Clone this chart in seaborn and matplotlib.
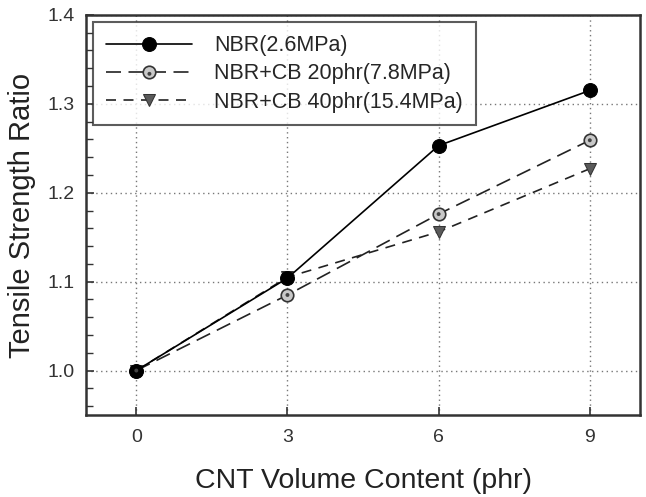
import matplotlib
matplotlib.use("Agg")
import matplotlib.pyplot as plt
import seaborn as sns
import pandas as pd
from matplotlib.ticker import MultipleLocator, FormatStrFormatter
from matplotlib.legend_handler import HandlerTuple

cnt = [0, 3, 6, 9]
nbr = [1.0, 1.104, 1.253, 1.315]
cb20 = [1.0, 1.085, 1.176, 1.259]
cb40 = [1.0, 1.105, 1.156, 1.227]
labels = ["NBR(2.6MPa)", "NBR+CB 20phr(7.8MPa)", "NBR+CB 40phr(15.4MPa)"]

sns.set_theme(style="white")
plt.rcParams['font.family'] = ['Liberation Sans', 'DejaVu Sans']

fig, ax = plt.subplots(figsize=(6.46, 4.97), dpi=100)
fig.subplots_adjust(left=0.133, right=0.991, top=0.970, bottom=0.165)

df = pd.DataFrame({"x": cnt, "nbr": nbr, "cb20": cb20, "cb40": cb40})

sns.lineplot(data=df, x="x", y="nbr", ax=ax, color="black", lw=1.2,
             errorbar=None, marker="o", markersize=10, markerfacecolor="black",
             markeredgecolor="black", zorder=5)
h1 = ax.lines[-1]
sns.lineplot(data=df, x="x", y="cb20", ax=ax, color="#222222", lw=1.2,
             errorbar=None, marker="o", markersize=9, markerfacecolor="#c8c8c8",
             markeredgecolor="#333333", markeredgewidth=1.2, zorder=4)
h2 = ax.lines[-1]
h2.set_linestyle((0, (9, 4.5)))
sns.scatterplot(data=df, x="x", y="cb20", ax=ax, color="#444444", s=8,
                edgecolor="none", zorder=6)
h2dot = ax.collections[-1]
sns.lineplot(data=df, x="x", y="cb40", ax=ax, color="#222222", lw=1.2,
             errorbar=None, marker="v", markersize=9, markerfacecolor="#5a5a5a",
             markeredgecolor="#333333", zorder=4)
h3 = ax.lines[-1]
h3.set_linestyle((0, (6, 4.5)))

ax.set_xlim(-1, 10)
ax.set_ylim(0.95, 1.4)
ax.set_xticks(cnt)
ax.yaxis.set_major_locator(MultipleLocator(0.1))
ax.yaxis.set_minor_locator(MultipleLocator(0.02))
ax.yaxis.set_major_formatter(FormatStrFormatter('%.1f'))
ax.tick_params(axis='both', which='both', direction='in', colors='#333333',
               labelcolor='#333333', labelsize=14)
ax.tick_params(axis='both', which='major', length=6, width=1.2)
ax.tick_params(axis='x', which='major', pad=10)
ax.tick_params(axis='y', which='major', pad=8)
ax.tick_params(axis='y', which='minor', length=5, width=1.0, left=True)
ax.tick_params(bottom=True, left=True, top=False, right=False)
ax.grid(True, which='major', linestyle=(0, (1, 2.5)), color='#777777', lw=1.0)
for s in ax.spines.values():
    s.set_linewidth(1.8)
    s.set_color('#333333')

ax.set_xlabel("CNT Volume Content (phr)", fontsize=20.5, color='#222222', labelpad=16)
ax.set_ylabel("Tensile Strength Ratio", fontsize=21, color='#222222', labelpad=8)

leg = ax.legend([h1, (h2, h2dot), h3], labels, loc='upper left',
                handler_map={tuple: HandlerTuple(ndivide=1, pad=0)},
                fontsize=15.5, frameon=True, fancybox=False, edgecolor='#333333',
                handlelength=4.0, handletextpad=1.0, borderpad=0.6,
                labelspacing=0.33, borderaxespad=0.35)
leg.get_frame().set_linewidth(1.5)

fig.savefig("out.png", dpi=100)
